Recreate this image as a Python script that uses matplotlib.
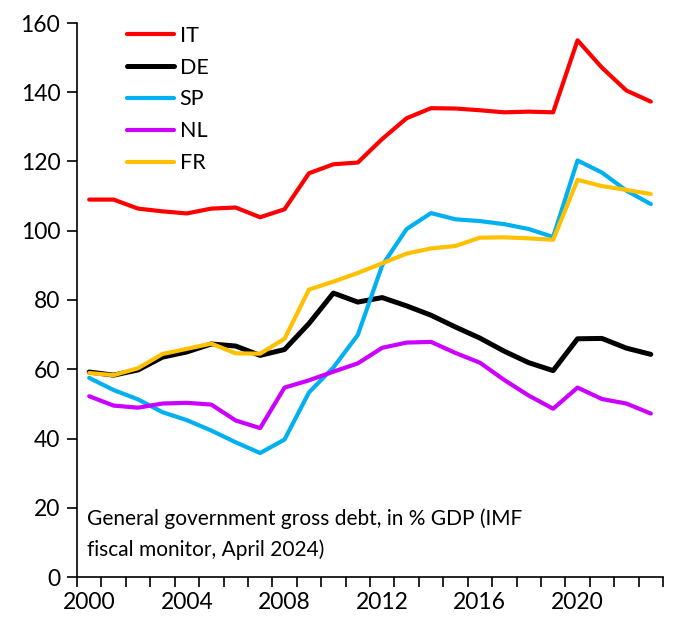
import matplotlib.pyplot as plt
import numpy as np

years = list(range(2000, 2024))
it = [109.0, 109.0, 106.4, 105.6, 105.0, 106.4, 106.7, 103.9, 106.2, 116.6, 119.2, 119.7,
      126.5, 132.5, 135.4, 135.3, 134.8, 134.2, 134.4, 134.2, 155.0, 147.1, 140.5, 137.3]
de = [59.2, 58.3, 59.8, 63.5, 65.0, 67.3, 66.7, 64.0, 65.7, 73.2, 82.0, 79.4,
      80.7, 78.3, 75.6, 72.2, 69.0, 65.2, 61.9, 59.6, 68.8, 68.9, 66.1, 64.3]
sp = [57.5, 54.0, 51.3, 47.6, 45.3, 42.3, 38.9, 35.8, 39.7, 53.3, 60.5, 69.9,
      90.0, 100.5, 105.1, 103.3, 102.8, 101.9, 100.5, 98.2, 120.3, 116.8, 111.6, 107.7]
nl = [52.2, 49.5, 48.9, 50.1, 50.3, 49.8, 45.2, 43.0, 54.7, 56.8, 59.3, 61.7,
      66.2, 67.7, 67.9, 64.7, 61.9, 56.9, 52.4, 48.6, 54.7, 51.4, 50.1, 47.2]
fr = [58.9, 58.3, 60.3, 64.4, 65.9, 67.4, 64.6, 64.5, 68.8, 83.0, 85.3, 87.8,
      90.6, 93.4, 94.9, 95.6, 98.0, 98.1, 97.8, 97.4, 114.7, 112.9, 111.8, 110.6]
labels = ["IT", "DE", "SP", "NL", "FR"]
colors = ["#FF0000", "#000000", "#00B0F0", "#CC00FF", "#FFC000"]
note = "General government gross debt, in % GDP (IMF\nfiscal monitor, April 2024)"

plt.rcParams['font.family'] = ['Lato', 'DejaVu Sans']

fig = plt.figure(figsize=(6.8, 6.28), dpi=100)
ax = fig.add_axes([77/680, 51/628, 586/680, 554/628])

for vals, lab, col in zip([it, de, sp, nl, fr], labels, colors):
    w = 3.6 if lab == "DE" else 3.0
    ax.plot(years, vals, color=col, lw=w, label=lab,
            solid_joinstyle='round', solid_capstyle='round')

ax.set_xlim(1999.5, 2023.5)
ax.set_ylim(0, 160)
ax.set_yticks(np.arange(0, 161, 20))
ax.set_xticks(np.arange(1999.5, 2024, 1))
ax.set_xticklabels([])
ax.set_xticks([2000, 2004, 2008, 2012, 2016, 2020], minor=True)
ax.set_xticklabels(["2000", "2004", "2008", "2012", "2016", "2020"], minor=True)
ax.tick_params(axis='x', which='major', direction='out', length=7, width=1.2)
ax.tick_params(axis='x', which='minor', length=0, pad=11, labelsize=16.5)
ax.tick_params(axis='y', direction='out', length=7, width=1.2, labelsize=16.5, pad=5)

for s in ['top', 'right']:
    ax.spines[s].set_visible(False)
for s in ['left', 'bottom']:
    ax.spines[s].set_linewidth(1.2)

ax.legend(loc='upper left', bbox_to_anchor=(0.052, 1.03), frameon=False, fontsize=15.5,
          handlelength=2.2, handletextpad=0.25, labelspacing=0.55)
ax.text(0.017, 0.03, note, transform=ax.transAxes, fontsize=15, va='bottom',
        linespacing=1.65)

fig.savefig("out.png", dpi=100)
